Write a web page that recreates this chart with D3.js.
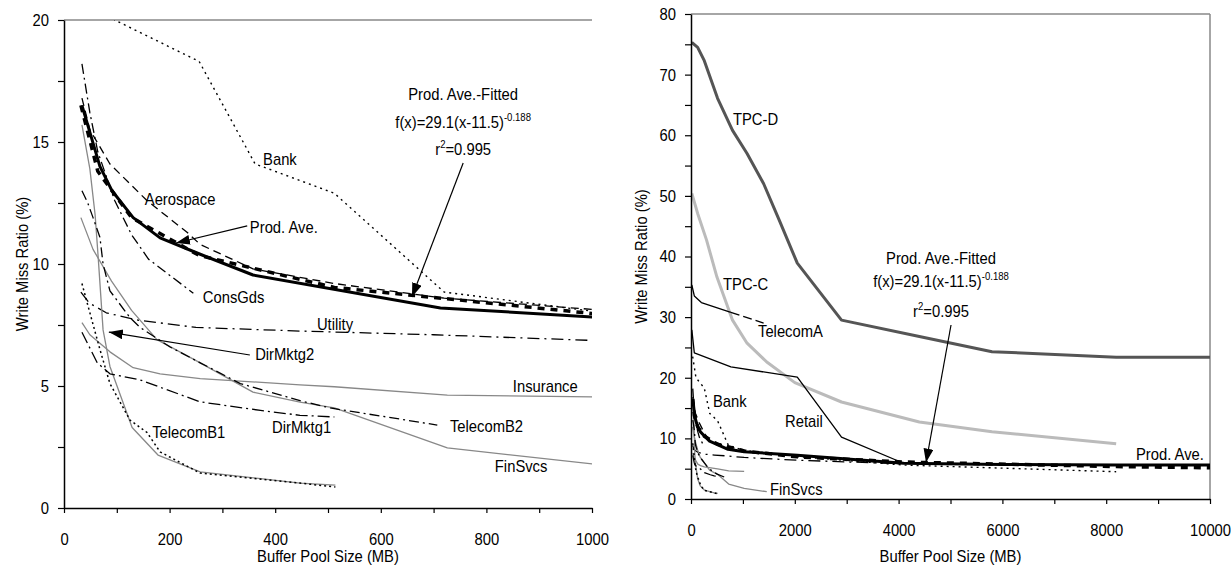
<!DOCTYPE html>
<html>
<head>
<meta charset="utf-8">
<script src="https://cdn.jsdelivr.net/npm/d3@7"></script>
<style>
body { margin: 0; background: #fff; }
svg text { font-family: 'Liberation Sans', Arial, sans-serif; font-size: 17px; fill: #000; }
</style>
</head>
<body>
<svg id="chart" width="1231" height="565"></svg>
<script>
// series values: [buffer pool MB, write miss ratio %]
var bank        = [[32,23.5],[96,20.0],[256,18.3],[362,14.1],[512,12.9],[720,8.85],[1024,8.0],[2048,7.0],[4096,5.6],[8192,4.5]];
var aerospace   = [[34,16.8],[49,15.5],[87,14.1],[157,12.6],[233,11.3],[258,10.8],[358,9.8],[512,9.2],[720,8.6],[1024,8.1]];
var prodAve     = [[34,16.5],[68,14.0],[91,13.0],[131,11.9],[182,11.07],[258,10.4],[358,9.55],[713,8.2],[1024,7.8],[2048,7.2],[4096,5.9],[6000,5.7],[8192,5.6],[10000,5.6]];
var prodAveFit  = [[32,16.5],[64,13.8],[128,11.9],[256,10.35],[512,9.04],[1024,7.92],[2048,6.95],[4096,6.1],[8192,5.35],[10000,5.15]];
var consGds     = [[34,18.2],[49,16.2],[64,14.6],[96,12.6],[128,11.2],[160,10.2],[245,8.8]];
var utility     = [[32,8.85],[48,8.4],[80,8.0],[140,7.7],[250,7.4],[450,7.25],[700,7.1],[1024,6.85],[2048,6.4],[4096,5.8]];
var dirMktg2    = [[34,15.7],[49,13.9],[59,12.0],[65,10.2],[74,7.3],[87,5.8],[129,3.3],[178,2.17],[258,1.48],[447,1.02],[514,0.94]];
var insurance   = [[34,7.6],[49,7.1],[87,6.4],[131,5.75],[182,5.5],[258,5.3],[447,5.05],[512,4.97],[726,4.63],[1024,4.55]];
var telecomB2   = [[34,13.0],[45,12.5],[55,11.9],[68,11.1],[74,10.0],[87,8.9],[125,7.8],[144,7.4],[201,6.6],[258,5.95],[334,5.1],[447,4.4],[504,4.1],[707,3.4]];
var dirMktg1    = [[34,7.2],[63,5.95],[87,5.5],[144,5.25],[182,4.95],[258,4.35],[372,4.0],[447,3.8],[512,3.73]];
var telecomB1   = [[34,9.2],[49,8.0],[68,6.5],[87,5.1],[125,3.6],[157,3.1],[182,2.3],[258,1.43],[447,1.02],[514,0.86]];
var finSvcs     = [[32,11.9],[55,10.6],[90,9.3],[128,8.1],[176,6.9],[245,6.1],[358,4.75],[447,4.34],[512,4.1],[726,2.46],[1024,1.75],[1460,1.2]];
var tpcD        = [[16,75.3],[128,74.5],[256,72.3],[512,66.1],[800,60.8],[1080,57.0],[1400,52.0],[1700,46.0],[2048,38.9],[2900,29.5],[4400,26.8],[5800,24.3],[8192,23.4],[10000,23.4]];
var tpcC        = [[16,50.4],[128,47.1],[300,42.7],[500,36.6],[800,29.5],[1080,25.7],[1460,22.6],[2000,19.2],[2900,16.0],[4400,12.7],[5800,11.1],[8192,9.1]];
var telecomA    = [[16,35.3],[64,33.5],[200,32.4],[768,30.8]];
var telecomAEnd = [[768,30.8],[1400,29.0]];
var retail      = [[16,27.9],[64,24.1],[768,21.8],[2048,20.1],[2900,10.2],[4096,5.9]];

var leftYTicks  = d3.range(0, 20.01, 2.5);
var leftXTicks  = d3.range(0, 1001, 100);
var rightYTicks = d3.range(0, 80.1, 5);
var rightXTicks = d3.range(0, 10001, 1000);

// line styles
var styles = {
  bank:       {stroke: '#000', w: 1.4, dash: '2,4'},
  aerospace:  {stroke: '#000', w: 1.3, dash: '8,5'},
  consGds:    {stroke: '#000', w: 1.3, dash: '10,4,2,4'},
  utility:    {stroke: '#000', w: 1.3, dash: '12,5,2,5'},
  telecomB2:  {stroke: '#000', w: 1.3, dash: '10,4,2,4'},
  dirMktg1:   {stroke: '#000', w: 1.3, dash: '12,4,2,4'},
  telecomB1:  {stroke: '#000', w: 1.5, dash: '2,3'},
  dirMktg2:   {stroke: '#888', w: 1.3, dash: null},
  insurance:  {stroke: '#888', w: 1.3, dash: null},
  finSvcs:    {stroke: '#888', w: 1.3, dash: null},
  tpcD:       {stroke: '#555', w: 3, dash: null},
  tpcC:       {stroke: '#bbb', w: 3, dash: null},
  telecomA:   {stroke: '#000', w: 1.3, dash: null},
  telecomAEnd:{stroke: '#000', w: 1.3, dash: '9,4'},
  retail:     {stroke: '#000', w: 1.3, dash: null},
  prodAve:    {stroke: '#000', w: 3, dash: null},
  prodAveFit: {stroke: '#000', w: 3.5, dash: '7,6'}
};

var leftSeries = [
  ['bank', bank], ['aerospace', aerospace], ['consGds', consGds], ['utility', utility],
  ['dirMktg2', dirMktg2], ['insurance', insurance], ['finSvcs', finSvcs],
  ['telecomB2', telecomB2], ['dirMktg1', dirMktg1], ['telecomB1', telecomB1],
  ['prodAve', prodAve], ['prodAveFit', prodAveFit]
];
var rightSeries = [
  ['tpcD', tpcD], ['tpcC', tpcC], ['telecomA', telecomA], ['telecomAEnd', telecomAEnd], ['retail', retail]
].concat(leftSeries);

var svg = d3.select('#chart');
var defs = svg.append('defs');
defs.append('marker').attr('id', 'arr')
  .attr('markerUnits', 'userSpaceOnUse')
  .attr('markerWidth', 16).attr('markerHeight', 12)
  .attr('refX', 14).attr('refY', 5).attr('orient', 'auto')
  .append('path').attr('d', 'M0,0 L14,5 L0,10 Z').attr('fill', '#000');

function panel(o) {
  var x = d3.scaleLinear().domain(o.xDom).range([o.left, o.right]);
  var y = d3.scaleLinear().domain(o.yDom).range([o.bottom, o.top]);
  var g = svg.append('g');

  // top border (and right border if present)
  g.append('line').attr('x1', o.left).attr('x2', o.right).attr('y1', o.top).attr('y2', o.top)
    .attr('stroke', '#888').attr('stroke-width', 1.5);
  if (o.rightBorder) {
    g.append('line').attr('x1', o.right).attr('x2', o.right).attr('y1', o.top).attr('y2', o.bottom)
      .attr('stroke', '#888').attr('stroke-width', 1.5);
  }

  var clipId = 'clip' + o.id;
  defs.append('clipPath').attr('id', clipId).append('rect')
    .attr('x', o.left).attr('y', o.top).attr('width', o.right - o.left).attr('height', o.bottom - o.top);

  var line = d3.line().x(function(d){ return x(d[0]); }).y(function(d){ return y(d[1]); });
  var lines = g.append('g').attr('clip-path', 'url(#' + clipId + ')');
  o.series.forEach(function(s){
    var st = styles[s[0]];
    lines.append('path').datum(s[1]).attr('d', line)
      .attr('fill', 'none').attr('stroke', st.stroke).attr('stroke-width', st.w)
      .attr('stroke-dasharray', st.dash).attr('stroke-linejoin', 'round');
  });

  var xa = g.append('g').attr('transform', 'translate(0,' + o.bottom + ')')
    .call(d3.axisBottom(x).tickValues(o.xTicks).tickSize(5).tickSizeOuter(0).tickPadding(20)
      .tickFormat(function(d){ return d % o.xLab === 0 ? d : ''; }));
  var ya = g.append('g').attr('transform', 'translate(' + o.left + ',0)')
    .call(d3.axisLeft(y).tickValues(o.yTicks).tickSize(6).tickSizeOuter(0).tickPadding(9)
      .tickFormat(function(d){ return d % o.yLab === 0 ? d : ''; }));
  [xa, ya].forEach(function(a){
    a.select('.domain').attr('stroke', '#000').attr('stroke-width', 1.5);
    a.selectAll('.tick line').attr('stroke', '#000').attr('stroke-width', 1.2);
    a.selectAll('text').attr('font-size', null).attr('font-family', null);
  });
  xa.selectAll('text').attr('dy', '0.71em');

  g.append('text').attr('x', (o.left + o.right) / 2).attr('y', 562)
    .attr('text-anchor', 'middle').text('Buffer Pool Size (MB)');
  g.append('text').attr('transform', 'translate(' + o.yTitleX + ',' + ((o.top + o.bottom) / 2) + ') rotate(-90)')
    .attr('text-anchor', 'middle').attr('dy', '0.35em').text('Write Miss Ratio (%)');

  o.labels.forEach(function(l){
    g.append('text').attr('x', x(l[1])).attr('y', y(l[2])).text(l[0]);
  });
  o.arrows.forEach(function(a){
    g.append('line').attr('x1', x(a[0])).attr('y1', y(a[1])).attr('x2', x(a[2])).attr('y2', y(a[3]))
      .attr('stroke', '#000').attr('stroke-width', 1.2).attr('marker-end', 'url(#arr)');
  });

  // fitted curve annotation
  var fx = x(o.fit[0]);
  g.append('text').attr('x', fx).attr('y', y(o.fit[1])).attr('text-anchor', 'middle').text('Prod. Ave.-Fitted');
  var t2 = g.append('text').attr('x', fx).attr('y', y(o.fit[2])).attr('text-anchor', 'middle');
  t2.append('tspan').text('f(x)=29.1(x-11.5)');
  t2.append('tspan').attr('dy', -7).style('font-size', '11px').text('-0.188');
  var t3 = g.append('text').attr('x', fx).attr('y', y(o.fit[3])).attr('text-anchor', 'middle');
  t3.append('tspan').text('r');
  t3.append('tspan').attr('dy', -7).style('font-size', '11px').text('2');
  t3.append('tspan').attr('dy', 7).text('=0.995');
}

panel({
  id: 'L', xDom: [0, 1000], yDom: [0, 20], left: 64, right: 592, top: 20, bottom: 508,
  xTicks: leftXTicks, yTicks: leftYTicks, xLab: 200, yLab: 5, yTitleX: 22, rightBorder: false,
  series: leftSeries,
  labels: [
    ['Bank', 377, 14.06], ['Aerospace', 153, 12.42], ['Prod. Ave.', 352, 11.27],
    ['ConsGds', 263, 8.4], ['Utility', 479, 7.3], ['DirMktg2', 362, 6.07],
    ['Insurance', 850, 4.75], ['TelecomB2', 731, 3.11], ['DirMktg1', 394, 3.07],
    ['TelecomB1', 167, 2.87], ['FinSvcs', 816, 1.48]
  ],
  arrows: [[347, 11.56, 212, 10.86], [756, 14.14, 659, 8.65], [352, 6.27, 85, 7.21]],
  fit: [756, 16.72, 15.57, 14.47]
});

panel({
  id: 'R', xDom: [0, 10000], yDom: [0, 80], left: 691, right: 1210, top: 14, bottom: 499,
  xTicks: rightXTicks, yTicks: rightYTicks, xLab: 2000, yLab: 10, yTitleX: 641, rightBorder: true,
  series: rightSeries,
  labels: [
    ['TPC-D', 809, 61.7], ['TPC-C', 617, 34.5], ['TelecomA', 1291, 26.8], ['Bank', 424, 15.2],
    ['Retail', 1811, 11.9], ['FinSvcs', 1522, 0.7], ['Prod. Ave.', 8574, 6.5]
  ],
  arrows: [[5010, 28.7, 4528, 6.0]],
  fit: [4817, 38.8, 35.0, 30.0]
});

// the original uses a condensed face; squeeze every text horizontally around its anchor
svg.selectAll('text').each(function(){
  var t = d3.select(this);
  var tx = +t.attr('x') || 0, ty = +t.attr('y') || 0;
  var prev = t.attr('transform') || '';
  t.attr('transform', prev + ' translate(' + tx + ',' + ty + ') scale(0.87,1) translate(' + (-tx) + ',' + (-ty) + ')');
});
</script>
</body>
</html>
